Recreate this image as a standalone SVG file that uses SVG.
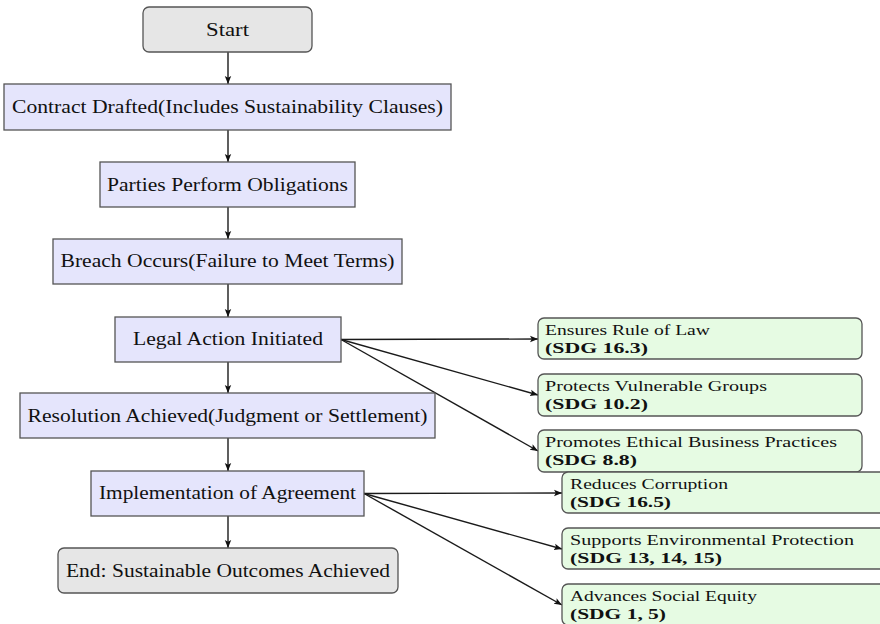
<svg xmlns="http://www.w3.org/2000/svg" width="880" height="624" viewBox="0 0 880 624">
<defs>
<marker id="ah" markerWidth="10" markerHeight="8" refX="8" refY="4" orient="auto" markerUnits="userSpaceOnUse">
<path d="M0,0.8 L8,4 L0,7.2 L1.8,4 Z" fill="#111"/>
</marker>
<style>
.term{fill:#e6e6e6;stroke:#555;stroke-width:1.3}
.proc{fill:#e5e5fc;stroke:#555;stroke-width:1.3}
.sdg{fill:#e6fbe3;stroke:#555;stroke-width:1.3}
.t{font-family:"Liberation Serif","Times New Roman",serif;font-size:19.5px;fill:#111;text-anchor:middle}
.g{font-family:"Liberation Serif","Times New Roman",serif;font-size:15.5px;fill:#111}
.gb{font-family:"Liberation Serif","Times New Roman",serif;font-size:15.5px;font-weight:bold;fill:#111}
.c{stroke:#1a1a1a;stroke-width:1.4;fill:none;marker-end:url(#ah)}
</style>
</defs>
<rect width="880" height="624" fill="#fff"/>
<g id="connectors">
<line class="c" x1="228" y1="52" x2="228" y2="84"/>
<line class="c" x1="228" y1="130" x2="228" y2="162"/>
<line class="c" x1="228" y1="207" x2="228" y2="239"/>
<line class="c" x1="228" y1="284" x2="228" y2="317"/>
<line class="c" x1="228" y1="362" x2="228" y2="393"/>
<line class="c" x1="228" y1="438" x2="228" y2="471"/>
<line class="c" x1="228" y1="516" x2="228" y2="548"/>
<line class="c" x1="341" y1="339.5" x2="538" y2="339"/>
<line class="c" x1="341" y1="339.5" x2="538" y2="395"/>
<line class="c" x1="341" y1="339.5" x2="538" y2="451"/>
<line class="c" x1="364" y1="493.5" x2="562" y2="493"/>
<line class="c" x1="364" y1="493.5" x2="562" y2="549"/>
<line class="c" x1="364" y1="493.5" x2="562" y2="605"/>
</g>
<g id="start"><rect class="term" x="143" y="7" width="169" height="45" rx="6"/><text class="t" x="227.5" y="36" textLength="43" lengthAdjust="spacingAndGlyphs">Start</text></g>
<g id="contract"><rect class="proc" x="4" y="84" width="447" height="46"/><text class="t" x="227.5" y="113" textLength="431" lengthAdjust="spacingAndGlyphs">Contract Drafted(Includes Sustainability Clauses)</text></g>
<g id="parties"><rect class="proc" x="100" y="162" width="255" height="45"/><text class="t" x="227.5" y="191" textLength="241" lengthAdjust="spacingAndGlyphs">Parties Perform Obligations</text></g>
<g id="breach"><rect class="proc" x="53" y="239" width="349" height="45"/><text class="t" x="227.5" y="267" textLength="334" lengthAdjust="spacingAndGlyphs">Breach Occurs(Failure to Meet Terms)</text></g>
<g id="legal"><rect class="proc" x="115" y="317" width="226" height="45"/><text class="t" x="228" y="345" textLength="190" lengthAdjust="spacingAndGlyphs">Legal Action Initiated</text></g>
<g id="resolution"><rect class="proc" x="20" y="393" width="415" height="45"/><text class="t" x="227.5" y="422" textLength="400" lengthAdjust="spacingAndGlyphs">Resolution Achieved(Judgment or Settlement)</text></g>
<g id="implementation"><rect class="proc" x="91" y="471" width="273" height="45"/><text class="t" x="227.5" y="499" textLength="257" lengthAdjust="spacingAndGlyphs">Implementation of Agreement</text></g>
<g id="end"><rect class="term" x="58" y="548" width="340" height="45" rx="6"/><text class="t" x="228" y="577" textLength="324" lengthAdjust="spacingAndGlyphs">End: Sustainable Outcomes Achieved</text></g>
<g id="ensures"><rect class="sdg" x="538" y="318" width="324" height="41" rx="6"/><text class="g" x="545" y="335" textLength="165" lengthAdjust="spacingAndGlyphs">Ensures Rule of Law</text><text class="gb" x="545" y="353" textLength="103" lengthAdjust="spacingAndGlyphs">(SDG 16.3)</text></g>
<g id="protects"><rect class="sdg" x="538" y="374" width="324" height="42" rx="6"/><text class="g" x="545" y="391" textLength="222" lengthAdjust="spacingAndGlyphs">Protects Vulnerable Groups</text><text class="gb" x="545" y="409" textLength="103" lengthAdjust="spacingAndGlyphs">(SDG 10.2)</text></g>
<g id="promotes"><rect class="sdg" x="538" y="430" width="324" height="42" rx="6"/><text class="g" x="545" y="447" textLength="292" lengthAdjust="spacingAndGlyphs">Promotes Ethical Business Practices</text><text class="gb" x="545" y="465" textLength="92" lengthAdjust="spacingAndGlyphs">(SDG 8.8)</text></g>
<g id="reduces"><rect class="sdg" x="562" y="472" width="324" height="41" rx="6"/><text class="g" x="570" y="489" textLength="158" lengthAdjust="spacingAndGlyphs">Reduces Corruption</text><text class="gb" x="570" y="507" textLength="101" lengthAdjust="spacingAndGlyphs">(SDG 16.5)</text></g>
<g id="supports"><rect class="sdg" x="562" y="528" width="324" height="41" rx="6"/><text class="g" x="570" y="545" textLength="284" lengthAdjust="spacingAndGlyphs">Supports Environmental Protection</text><text class="gb" x="570" y="563" textLength="152" lengthAdjust="spacingAndGlyphs">(SDG 13, 14, 15)</text></g>
<g id="advances"><rect class="sdg" x="562" y="584" width="324" height="41" rx="6"/><text class="g" x="570" y="601" textLength="187" lengthAdjust="spacingAndGlyphs">Advances Social Equity</text><text class="gb" x="570" y="619" textLength="96" lengthAdjust="spacingAndGlyphs">(SDG 1, 5)</text></g>
</svg>
